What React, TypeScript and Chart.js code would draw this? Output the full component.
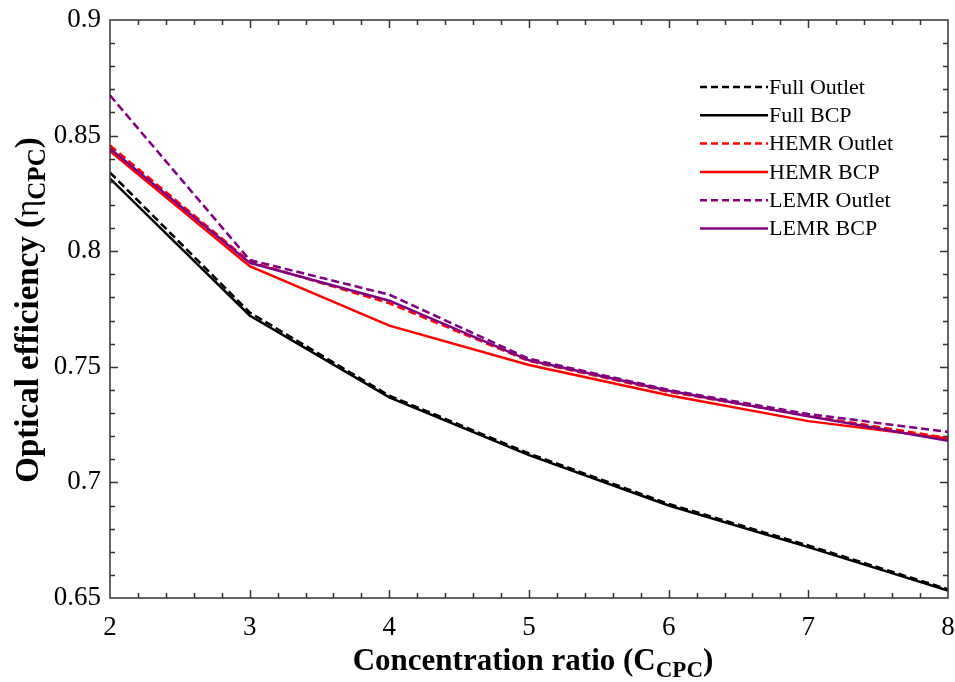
import React, { useEffect, useRef } from "react";
import { Chart, registerables } from "chart.js";

Chart.register(...registerables);

const xValues = [2, 3, 4, 5, 6, 7, 8];
const xTickValues = [2, 3, 4, 5, 6, 7, 8];
const xTickLabels = ["2", "3", "4", "5", "6", "7", "8"];
const yTickValues = [0.65, 0.7, 0.75, 0.8, 0.85, 0.9];
const yTickLabels = ["0.65", "0.7", "0.75", "0.8", "0.85", "0.9"];

const fullOutlet = [0.834, 0.7735, 0.7375, 0.7125, 0.6907, 0.6727, 0.6538];
const fullBCP = [0.8314, 0.7722, 0.7368, 0.7118, 0.6900, 0.6720, 0.6532];
const hemrOutlet = [0.8457, 0.7955, 0.7775, 0.7525, 0.7392, 0.7288, 0.7192];
const hemrBCP = [0.8433, 0.7935, 0.7678, 0.7508, 0.7377, 0.7265, 0.7190];
const lemrOutlet = [0.8674, 0.7962, 0.7812, 0.7535, 0.7400, 0.7296, 0.7218];
const lemrBCP = [0.8444, 0.7950, 0.7786, 0.7528, 0.7396, 0.7286, 0.7180];

const seriesNames = ["Full Outlet", "Full BCP", "HEMR Outlet", "HEMR BCP", "LEMR Outlet", "LEMR BCP"];
const seriesData = [fullOutlet, fullBCP, hemrOutlet, hemrBCP, lemrOutlet, lemrBCP];
const seriesColors = ["#000000", "#000000", "#ff0000", "#ff0000", "#800080", "#800080"];
const seriesDashed = [true, false, true, false, true, false];

const SERIF = '"Liberation Serif", "Times New Roman", serif';

function drawRich(ctx: CanvasRenderingContext2D, parts: { t: string; sub?: boolean; normal?: boolean }[], cx: number, cy: number, size: number, subSize: number) {
  const fontFor = (p: { sub?: boolean; normal?: boolean }) =>
    `${p.normal ? "" : "bold "}${p.sub ? subSize : size}px ${SERIF}`;
  let total = 0;
  const widths: number[] = [];
  for (const p of parts) {
    ctx.font = fontFor(p);
    const w = ctx.measureText(p.t).width;
    widths.push(w);
    total += w;
  }
  let x = cx - total / 2;
  ctx.textAlign = "left";
  ctx.textBaseline = "alphabetic";
  parts.forEach((p, i) => {
    ctx.font = fontFor(p);
    ctx.fillText(p.t, x, p.sub ? cy + size * 0.22 : cy);
    x += widths[i];
  });
}

const framePlugin = {
  id: "framePlugin",
  afterDraw(chart: any) {
    const ctx: CanvasRenderingContext2D = chart.ctx;
    const { left, right, top, bottom } = chart.chartArea;
    const xs = chart.scales.x;
    const ys = chart.scales.y;
    ctx.save();
    ctx.strokeStyle = "#333333";
    ctx.lineWidth = 1.5;
    ctx.strokeRect(left, top, right - left, bottom - top);

    ctx.beginPath();
    for (let i = 1; i < 30; i++) {
      const v = 2 + i * 0.2;
      const px = Math.round(xs.getPixelForValue(v)) + 0.5;
      const len = i % 5 === 0 ? 8 : 5;
      ctx.moveTo(px, bottom);
      ctx.lineTo(px, bottom - len);
      ctx.moveTo(px, top);
      ctx.lineTo(px, top + len);
    }
    for (let i = 1; i < 25; i++) {
      const v = 0.65 + i * 0.01;
      const py = Math.round(ys.getPixelForValue(v)) + 0.5;
      const len = i % 5 === 0 ? 8 : 5;
      ctx.moveTo(left, py);
      ctx.lineTo(left + len, py);
      ctx.moveTo(right, py);
      ctx.lineTo(right - len, py);
    }
    ctx.stroke();

    ctx.fillStyle = "#000000";
    ctx.font = `27px ${SERIF}`;
    ctx.textAlign = "center";
    ctx.textBaseline = "middle";
    xTickValues.forEach((v, i) => {
      ctx.fillText(xTickLabels[i], xs.getPixelForValue(v), bottom + 30);
    });
    ctx.textAlign = "right";
    yTickValues.forEach((v, i) => {
      ctx.fillText(yTickLabels[i], left - 9, ys.getPixelForValue(v));
    });

    drawRich(ctx, [{ t: "Concentration ratio (C" }, { t: "CPC", sub: true }, { t: ")" }], (left + right) / 2 + 4, bottom + 72, 31, 23);
    ctx.save();
    ctx.translate(38, (top + bottom) / 2 + 1);
    ctx.rotate(-Math.PI / 2);
    drawRich(ctx, [{ t: "Optical efficiency (" }, { t: "\u03b7", normal: true }, { t: "CPC", sub: true }, { t: ")" }], 0, 0, 33, 25);
    ctx.restore();

    const lx0 = 700;
    const lx1 = 768;
    const ly0 = 87;
    const lstep = 28.3;
    ctx.font = `22px ${SERIF}`;
    ctx.textAlign = "left";
    ctx.textBaseline = "middle";
    seriesNames.forEach((name, i) => {
      const y = ly0 + i * lstep;
      ctx.beginPath();
      ctx.strokeStyle = seriesColors[i];
      ctx.lineWidth = 2.5;
      ctx.setLineDash(seriesDashed[i] ? [7, 4] : []);
      ctx.moveTo(lx0, y);
      ctx.lineTo(lx1, y);
      ctx.stroke();
      ctx.setLineDash([]);
      ctx.fillStyle = "#000000";
      ctx.fillText(name, lx1 + 1, y + 1);
    });
    ctx.restore();
  },
};

export default function App() {
  const canvasRef = useRef<HTMLCanvasElement | null>(null);

  useEffect(() => {
    document.body.style.margin = "0";
    const canvas = canvasRef.current;
    if (!canvas) return;
    const datasets = seriesNames.map((name, i) => ({
      label: name,
      data: xValues.map((x, j) => ({ x, y: seriesData[i][j] })),
      borderColor: seriesColors[i],
      backgroundColor: seriesColors[i],
      borderWidth: 2.5,
      borderDash: seriesDashed[i] ? [8, 4] : [],
      pointRadius: 0,
      tension: 0,
      fill: false,
      order: seriesNames.length - i,
    }));
    const chart = new Chart(canvas, {
      type: "line",
      data: { datasets },
      options: {
        responsive: false,
        animation: false,
        devicePixelRatio: 1,
        layout: { padding: { left: 110, top: 20, right: 7, bottom: 84 } },
        plugins: { legend: { display: false }, tooltip: { enabled: false } },
        scales: {
          x: { type: "linear", min: 2, max: 8, display: false },
          y: { type: "linear", min: 0.65, max: 0.9, display: false },
        },
      },
      plugins: [framePlugin],
    });
    return () => chart.destroy();
  }, []);

  return (
    <div style={{ width: 955, height: 682, background: "#ffffff" }}>
      <canvas ref={canvasRef} width={955} height={682} style={{ display: "block" }} />
    </div>
  );
}
